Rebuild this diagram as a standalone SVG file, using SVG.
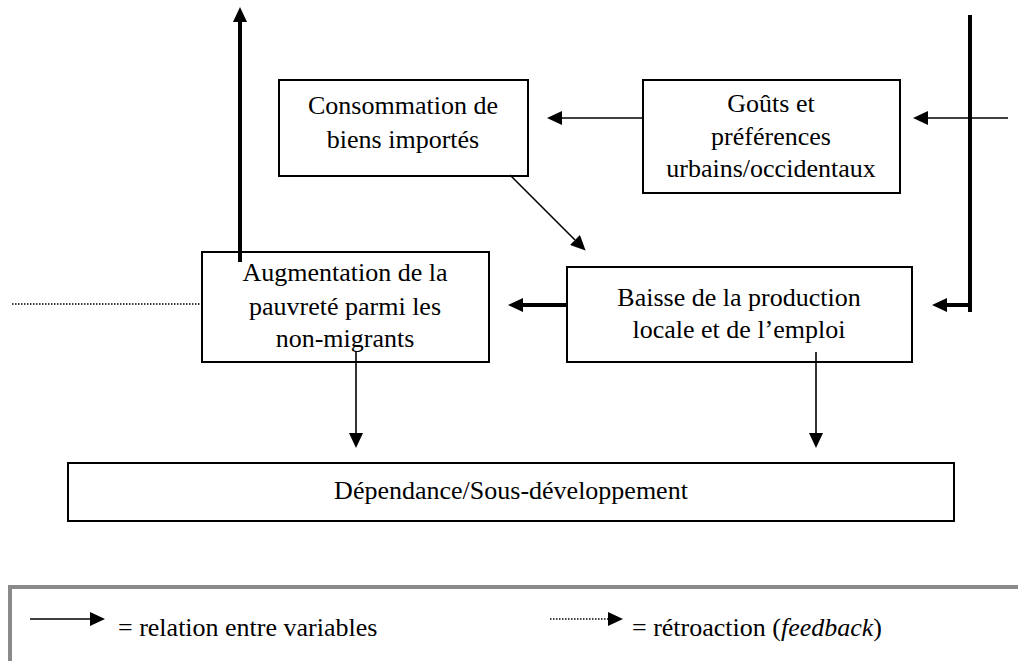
<svg xmlns="http://www.w3.org/2000/svg" width="1018" height="661" viewBox="0 0 1018 661">
<style>
.box{fill:#fff;stroke:#000;stroke-width:2}
.t{font-family:'Liberation Serif','Times New Roman',serif;font-size:26px;fill:#000}
.c{text-anchor:middle}
.thin{stroke:#000;stroke-width:1.6;fill:none}
.thick{stroke:#000;stroke-width:4;fill:none}
.dot{stroke:#000;stroke-width:1.5;stroke-dasharray:1.5 1.5;fill:none}
.frame{fill:none;stroke:#8a8a8a;stroke-width:4}
</style>
<defs>
<marker id="ah" markerUnits="userSpaceOnUse" markerWidth="15" markerHeight="14" refX="0" refY="7" orient="auto" viewBox="0 0 15 14">
<path d="M0,0 L15,7 L0,14 Z" fill="#000"/>
</marker>
</defs>
<rect width="1018" height="661" fill="#fff"/>

<g id="consommation">
<rect class="box" x="279" y="80" width="249" height="96"/>
<text class="t c" x="403" y="114">Consommation de</text>
<text class="t c" x="403" y="148">biens importés</text>
</g>
<g id="gouts">
<rect class="box" x="643" y="80" width="257" height="113"/>
<text class="t c" x="771" y="112">Goûts et</text>
<text class="t c" x="771" y="145">préférences</text>
<text class="t c" x="771" y="177">urbains/occidentaux</text>
</g>
<g id="augmentation">
<rect class="box" x="202" y="252" width="287" height="110"/>
<text class="t c" x="345" y="281">Augmentation de la</text>
<text class="t c" x="345" y="315">pauvreté parmi les</text>
<text class="t c" x="345" y="347">non-migrants</text>
</g>
<g id="baisse">
<rect class="box" x="567" y="267" width="345" height="95"/>
<text class="t c" x="739" y="306">Baisse de la production</text>
<text class="t c" x="739" y="338">locale et de l’emploi</text>
</g>
<g id="dependance">
<rect class="box" x="68" y="463" width="886" height="58"/>
<text class="t c" x="511" y="499">Dépendance/Sous-développement</text>
</g>

<g id="connectors">
<line class="thick" x1="240" y1="262" x2="240" y2="22" marker-end="url(#ah)"/>
<line class="thick" x1="970" y1="15" x2="970" y2="312"/>
<line class="thick" x1="970" y1="305" x2="947" y2="305" marker-end="url(#ah)"/>
<line class="thick" x1="567" y1="305" x2="523" y2="305" marker-end="url(#ah)"/>
<line class="thin" x1="1008" y1="118" x2="928" y2="118" marker-end="url(#ah)"/>
<line class="thin" x1="643" y1="118" x2="562" y2="118" marker-end="url(#ah)"/>
<line class="thin" x1="510" y1="175" x2="575" y2="240" marker-end="url(#ah)"/>
<line class="thin" x1="356" y1="352" x2="356" y2="433" marker-end="url(#ah)"/>
<line class="thin" x1="816" y1="352" x2="816" y2="433" marker-end="url(#ah)"/>
<line class="dot" x1="12" y1="304" x2="202" y2="304"/>
</g>

<g id="legend">
<rect class="frame" x="10" y="587" width="1100" height="200"/>
<line class="thin" x1="30" y1="619" x2="90" y2="619" marker-end="url(#ah)"/>
<text class="t" x="118" y="636">= relation entre variables</text>
<line class="dot" x1="550" y1="619" x2="608" y2="619" marker-end="url(#ah)"/>
<text class="t" x="632" y="636">= rétroaction (<tspan font-style="italic">feedback</tspan>)</text>
</g>
</svg>
